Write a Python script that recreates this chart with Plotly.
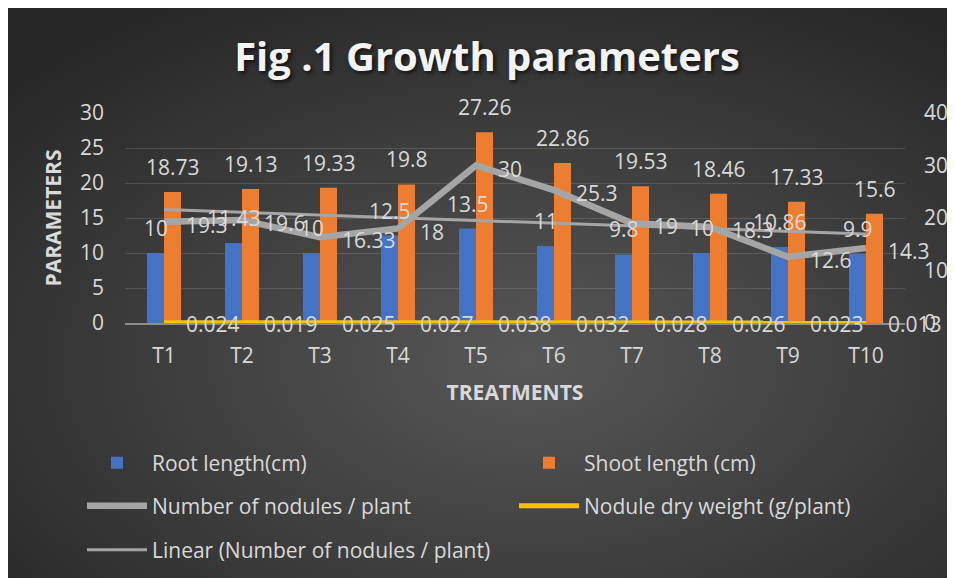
import base64
import numpy as np
import plotly.graph_objects as go

# ---------------- data ----------------
treatments = ["T1", "T2", "T3", "T4", "T5", "T6", "T7", "T8", "T9", "T10"]
root_length = [10, 11.43, 10, 12.5, 13.5, 11, 9.8, 10, 10.86, 9.9]
shoot_length = [18.73, 19.13, 19.33, 19.8, 27.26, 22.86, 19.53, 18.46, 17.33, 15.6]
nodules = [19.3, 19.6, 16.33, 18, 30, 25.3, 19, 18.3, 12.6, 14.3]
dry_weight = [0.024, 0.019, 0.025, 0.027, 0.038, 0.032, 0.028, 0.026, 0.023, 0.013]
left_ticks = [0, 5, 10, 15, 20, 25, 30]
right_ticks = [0, 10, 20, 30, 40]

# linear trendline of nodules (least squares fit)
idx = np.arange(1, len(nodules) + 1)
slope, intercept = np.polyfit(idx, nodules, 1)
trend = slope * idx + intercept

# ---------------- styling ----------------
W, H = 947, 570
ML, MR, MT, MB = 117, 50, 105, 255
PW, PH = W - ML - MR, H - MT - MB
FONT = "Open Sans"
LABEL_COLOR = "#d9d9d9"
BLUE = "#4472C4"
ORANGE = "#ED7D31"
GREY = "#a5a5a5"
YELLOW = "#FFC000"
ITEMW = 60

def px_x(px):
    return (px - ML) / PW

def px_y(py):
    return (H - MB - py) / PH

svg = (
    f'<svg xmlns="http://www.w3.org/2000/svg" width="{W}" height="{H}" preserveAspectRatio="none">'
    '<defs><radialGradient id="g" cx="0.55" cy="0.62" r="0.75">'
    '<stop offset="0" stop-color="#575757"/><stop offset="1" stop-color="#262626"/>'
    f'</radialGradient></defs><rect width="{W}" height="{H}" fill="url(#g)"/></svg>'
)
bg_uri = "data:image/svg+xml;base64," + base64.b64encode(svg.encode()).decode()

fig = go.Figure()

fig.add_trace(go.Bar(
    x=treatments, y=root_length, name="Root length(cm)",
    marker=dict(color=BLUE, line=dict(width=0)), legend="legend", legendrank=1,
))
fig.add_trace(go.Bar(
    x=treatments, y=shoot_length, name="Shoot length (cm)",
    marker=dict(color=ORANGE, line=dict(width=0)), legend="legend", legendrank=2,
))
fig.add_trace(go.Scatter(
    x=treatments, y=dry_weight, name="Nodule dry weight (g/plant)", mode="lines",
    line=dict(color=YELLOW, width=5), legend="legend2", legendrank=4,
))
fig.add_trace(go.Scatter(
    x=treatments, y=trend, name="Linear (Number of nodules / plant)", mode="lines",
    line=dict(color=GREY, width=3), yaxis="y2", legend="legend3", legendrank=5,
))
fig.add_trace(go.Scatter(
    x=treatments, y=nodules, name="Number of nodules / plant", mode="lines",
    line=dict(color=GREY, width=6.5), yaxis="y2", legend="legend2", legendrank=3,
))

# ---------------- data labels ----------------
ann = []
lab_font = dict(family=FONT, size=21, color=LABEL_COLOR)
for t, r, s in zip(treatments, root_length, shoot_length):
    ann.append(dict(x=t, y=r, xref="x", yref="y", text=f"{r:g}", showarrow=False,
                    xshift=-8.5, yshift=25, yanchor="middle", xanchor="center", font=lab_font))
    ann.append(dict(x=t, y=s, xref="x", yref="y", text=f"{s:g}", showarrow=False,
                    xshift=8.5, yshift=25, yanchor="middle", xanchor="center", font=lab_font))
for t, n in zip(treatments, nodules):
    ann.append(dict(x=t, y=n, xref="x", yref="y2", text=f"{n:g}", showarrow=False,
                    xshift=20, yshift=-3, yanchor="middle", xanchor="left", font=lab_font))
for t, d in zip(treatments, dry_weight):
    ann.append(dict(x=t, y=d, xref="x", yref="y", text=f"{d:g}", showarrow=False,
                    xshift=20, yshift=-1, yanchor="middle", xanchor="left", font=lab_font))

tick_font = dict(family=FONT, size=21, color=LABEL_COLOR)
title_font = dict(family=FONT, size=21, color=LABEL_COLOR, weight="bold")
legend_common = dict(orientation="h", font=dict(family=FONT, size=21, color=LABEL_COLOR),
                     bgcolor="rgba(0,0,0,0)", xanchor="left", yanchor="middle",
                     entrywidthmode="pixels", entrywidth=357, traceorder="normal",
                     itemwidth=ITEMW, itemclick=False, itemdoubleclick=False)
LEG_X = 74

fig.update_layout(
    width=W, height=H,
    margin=dict(l=ML, r=MR, t=MT, b=MB, autoexpand=False),
    paper_bgcolor="#2a2a2a", plot_bgcolor="rgba(0,0,0,0)",
    barmode="group", bargap=0.564, bargroupgap=0,
    title=dict(text="Fig .1 Growth parameters", x=479 / W, xanchor="center",
               y=1 - 49 / H, yanchor="middle", xref="container", yref="container",
               font=dict(family=FONT, size=40, color="#f4f4f4", weight="bold",
                         shadow="2px 2px 4px rgba(0,0,0,0.7)")),
    xaxis=dict(type="category", range=[-0.5, len(treatments) - 0.5], autorange=False,
               showgrid=False, showline=True, linecolor="#8c8c8c",
               linewidth=1.5, ticks="", tickfont=tick_font, ticklabelstandoff=13,
               title=dict(text="TREATMENTS", font=title_font, standoff=17)),
    yaxis=dict(range=[0, 30], tickvals=left_ticks, showgrid=True,
               gridcolor="rgba(255,255,255,0.13)", gridwidth=1, zeroline=False,
               showline=False, ticks="", tickfont=tick_font, ticklabelstandoff=20,
               title=dict(text="PARAMETERS", font=title_font, standoff=12)),
    yaxis2=dict(range=[0, 40], tickvals=right_ticks, overlaying="y", side="right",
                showgrid=False, zeroline=False, showline=False, ticks="",
                tickfont=tick_font, ticklabelstandoff=18),
    legend=dict(x=px_x(LEG_X), y=px_y(455), **legend_common),
    legend2=dict(x=px_x(LEG_X), y=px_y(498), **legend_common),
    legend3=dict(x=px_x(LEG_X), y=px_y(542), **legend_common),
    annotations=ann,
    images=[dict(source=bg_uri, xref="paper", yref="paper", x=px_x(0), y=px_y(0),
                 sizex=W / PW, sizey=H / PH, xanchor="left", yanchor="top",
                 sizing="stretch", layer="below")],
)

fig.write_html("out.html")
